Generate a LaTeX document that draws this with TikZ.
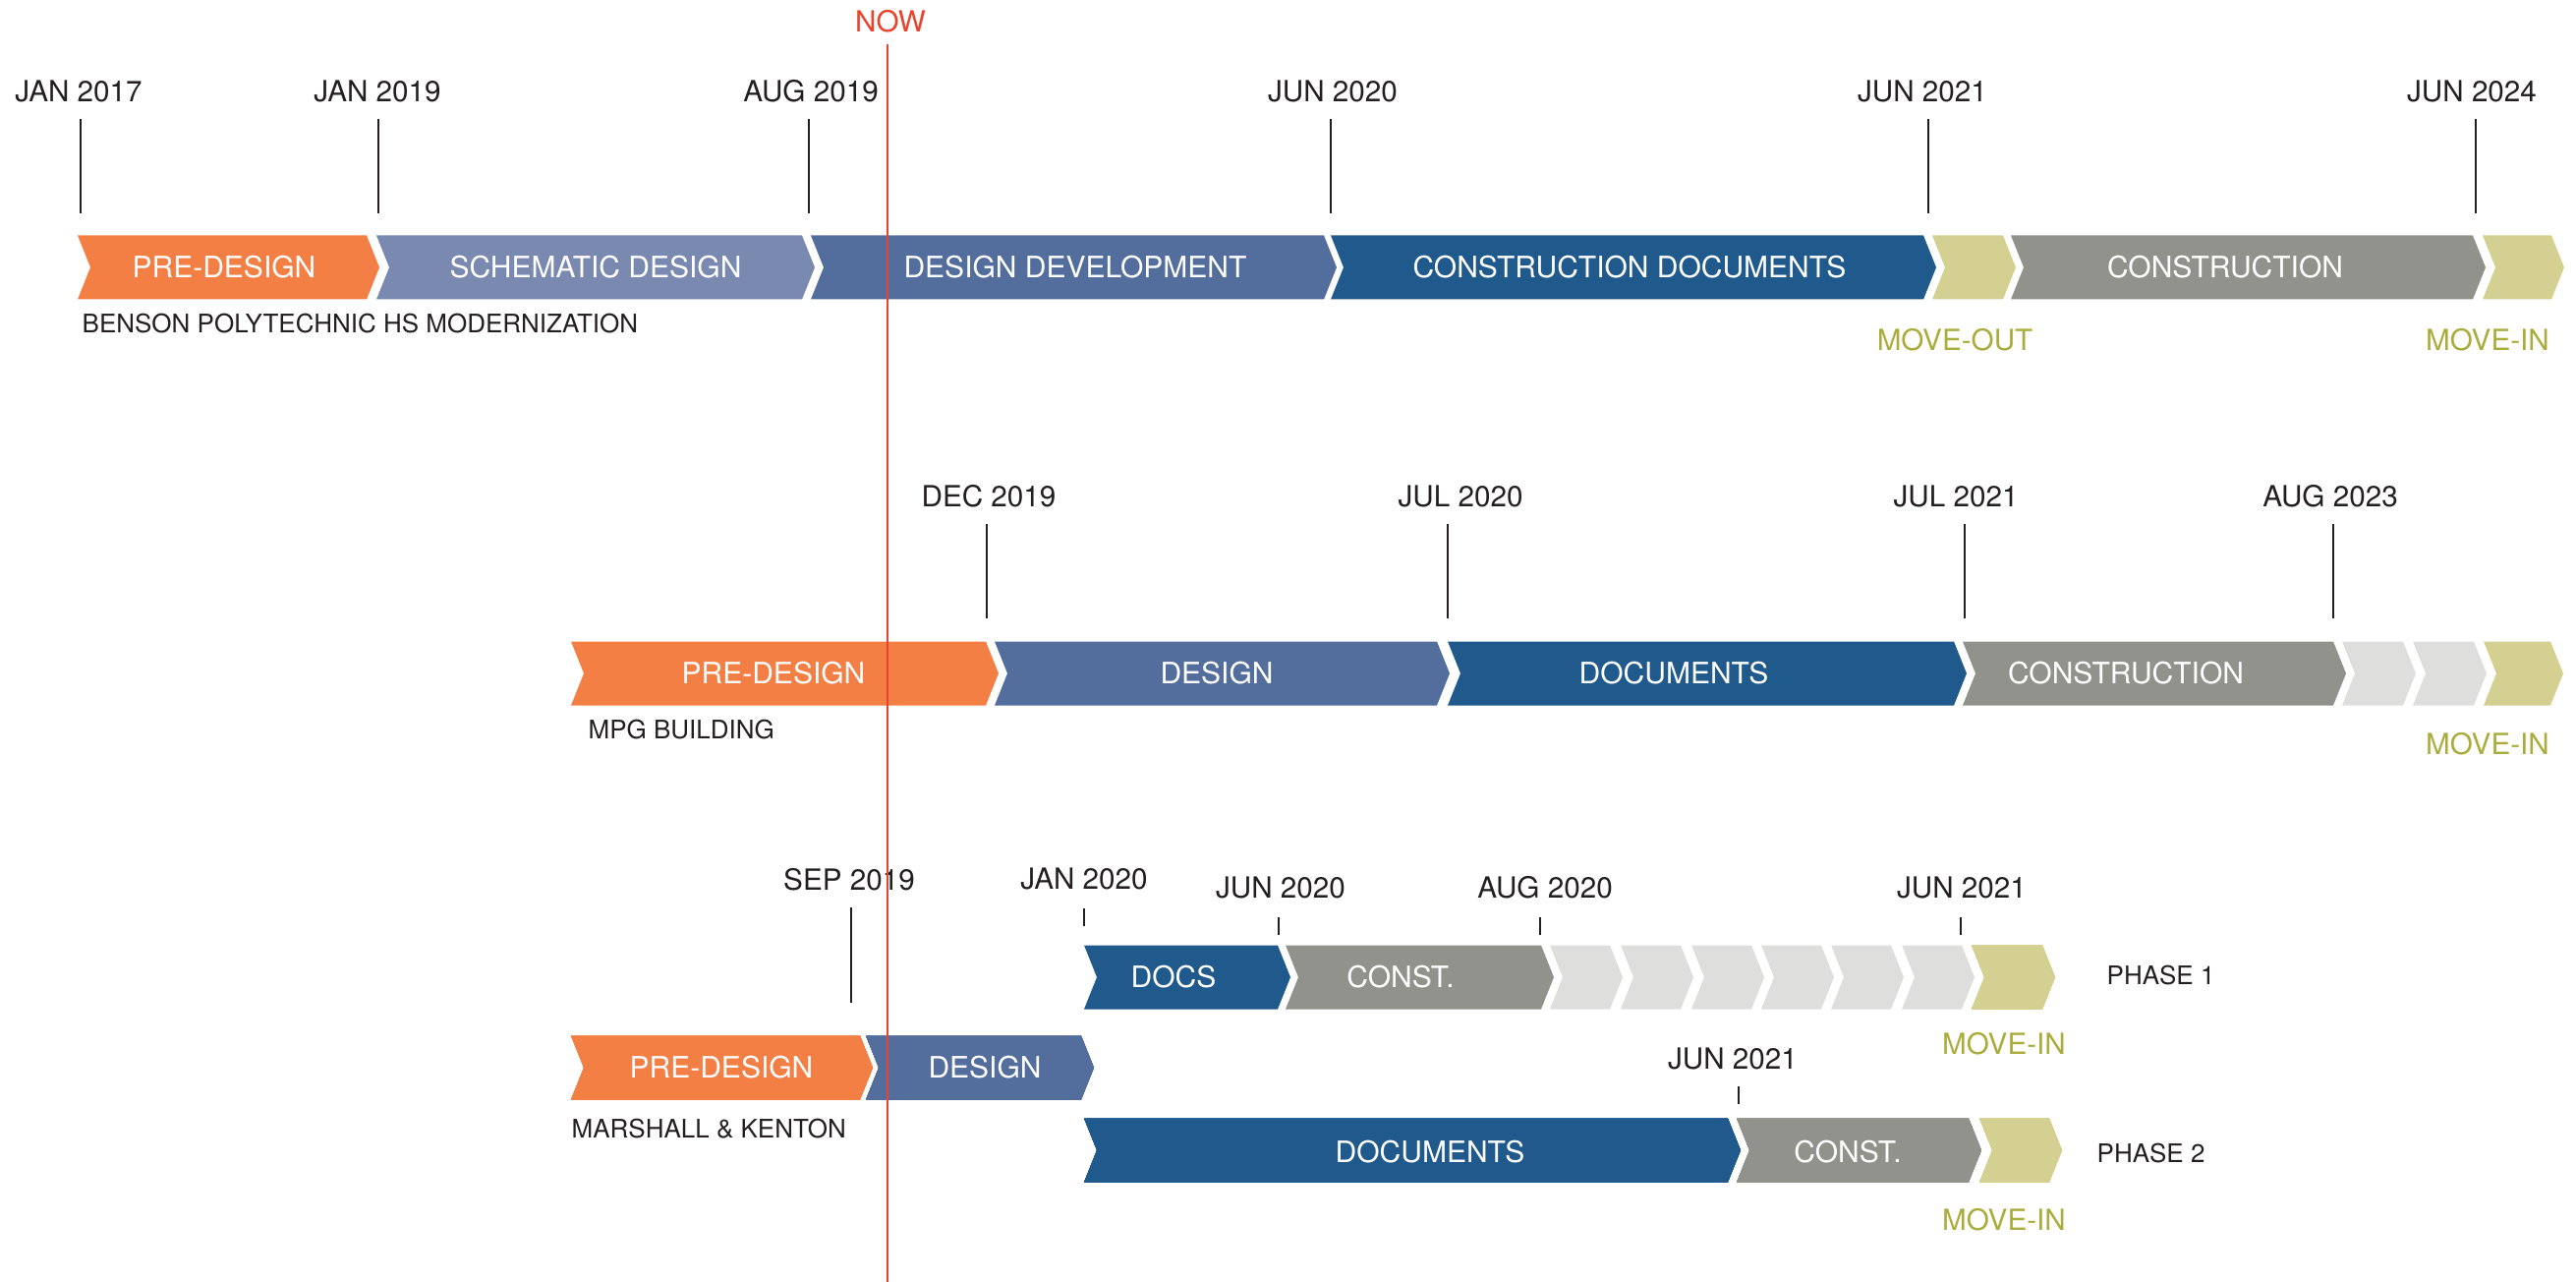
\documentclass[tikz,border=0pt]{standalone}
\usepackage{fontspec}
\setmainfont{TeX Gyre Heros}
\usepackage{tikz}

\definecolor{predes}{RGB}{244,127,69}
\definecolor{schem}{RGB}{122,137,176}
\definecolor{desdev}{RGB}{83,110,156}
\definecolor{condoc}{RGB}{32,89,140}
\definecolor{constr}{RGB}{146,146,140}
\definecolor{later}{RGB}{222,222,221}
\definecolor{move}{RGB}{212,208,145}
\definecolor{movetxt}{RGB}{170,172,60}
\definecolor{nowred}{RGB}{232,67,45}
\definecolor{ink}{RGB}{35,31,32}

% chevron: colour, left x, right x, middle y
\newcommand{\chev}[4]{\fill[#1] (#2,#4-32.5) -- (#3,#4-32.5) -- (#3+13,#4) -- (#3,#4+32.5) -- (#2,#4+32.5) -- (#2+13,#4) -- cycle;}

\begin{document}
\begin{tikzpicture}[x=0.3pt,y=0.3pt,yscale=-1,xscale=1,
    datelbl/.style={inner sep=0.75pt,text=ink,font=\fontsize{8.9}{10}\selectfont},
    barlbl/.style={inner sep=0.75pt,text=white,font=\fontsize{9}{10}\selectfont},
    projlbl/.style={anchor=west,inner sep=0pt,text=ink,font=\fontsize{7.8}{10}\selectfont},
    movelbl/.style={inner sep=0.75pt,text=movetxt,font=\fontsize{8.9}{10}\selectfont},
    phaselbl/.style={anchor=west,inner sep=0pt,text=ink,font=\fontsize{7.8}{10}\selectfont},
    datetick/.style={draw=ink,line width=0.6pt}]
        \useasboundingbox (0,0) rectangle (2621,1304);

        %Benson row
        \chev{predes}{79}{373}{272}
        \chev{schem}{383}{816}{272}
        \chev{desdev}{825}{1347}{272}
        \chev{condoc}{1354}{1957}{272}
        \chev{move}{1966}{2038}{272}
        \chev{constr}{2046}{2516}{272}
        \chev{move}{2526}{2596}{272}
        %Straight Lines
        \foreach \tx in {82,385,823,1354,1962,2519}
            \draw [datetick] (\tx,121) -- (\tx,217) ;
        % Text Node
        \draw (80,93) node (b17) [datelbl] {JAN 2017};
        \draw (384,93) node (b19) [datelbl] {JAN 2019};
        \draw (825,93) node (b19a) [datelbl] {AUG 2019};
        \draw (1356,93) node (b20) [datelbl] {JUN 2020};
        \draw (1956,93) node (b21) [datelbl] {JUN 2021};
        \draw (2515,93) node (b24) [datelbl] {JUN 2024};
        \draw (228,272) node (bpre) [barlbl] {PRE-DESIGN};
        \draw (606,272) node (bsd) [barlbl] {SCHEMATIC DESIGN};
        \draw (1094,272) node (bdd) [barlbl] {DESIGN DEVELOPMENT};
        \draw (1658,272) node (bcd) [barlbl] {CONSTRUCTION DOCUMENTS};
        \draw (2264,272) node (bcon) [barlbl] {CONSTRUCTION};
        \draw (83,329) node (bname) [projlbl] {BENSON POLYTECHNIC HS MODERNIZATION};
        \draw (1989,346) node (bout) [movelbl] {MOVE-OUT};
        \draw (2531,346) node (bin) [movelbl] {MOVE-IN};

        %MPG row
        \chev{predes}{581}{1003}{685}
        \chev{desdev}{1012}{1462}{685}
        \chev{condoc}{1473}{1988}{685}
        \chev{constr}{1997}{2374}{685}
        \chev{later}{2383}{2445}{685}
        \chev{later}{2455}{2517}{685}
        \chev{move}{2527}{2595}{685}
        %Straight Lines
        \foreach \tx in {1004,1473,1999,2374}
            \draw [datetick] (\tx,533) -- (\tx,629) ;
        % Text Node
        \draw (1006,505) node (m19) [datelbl] {DEC 2019};
        \draw (1486,505) node (m20) [datelbl] {JUL 2020};
        \draw (1990,505) node (m21) [datelbl] {JUL 2021};
        \draw (2371,505) node (m23) [datelbl] {AUG 2023};
        \draw (787,685) node (mpre) [barlbl] {PRE-DESIGN};
        \draw (1238,685) node (mdes) [barlbl] {DESIGN};
        \draw (1703,685) node (mdoc) [barlbl] {DOCUMENTS};
        \draw (2163,685) node (mcon) [barlbl] {CONSTRUCTION};
        \draw (598,742) node (mname) [projlbl] {MPG BUILDING};
        \draw (2531,757) node (min) [movelbl] {MOVE-IN};

        %Marshall rows
        \chev{condoc}{1103}{1300}{994}
        \chev{constr}{1308}{1568}{994}
        \foreach \gx in {1577,1649,1721,1792,1863,1935}
            \chev{later}{\gx}{\gx+61}{994}
        \chev{move}{2006}{2078}{994}
        \chev{predes}{581}{875}{1086}
        \chev{desdev}{881}{1100}{1086}
        \chev{condoc}{1103}{1758}{1170}
        \chev{constr}{1767}{2003}{1170}
        \chev{move}{2014}{2085}{1170}
        %Straight Lines
        \draw [datetick] (1103,924) -- (1103,942) ;
        \foreach \tx in {1301,1567,1995}
            \draw [datetick] (\tx,933) -- (\tx,951) ;
        \draw [datetick] (866,923) -- (866,1020) ;
        \draw [datetick] (1769,1105) -- (1769,1123) ;
        % Text Node
        \draw (1103,894) node (k20) [datelbl] {JAN 2020};
        \draw (1303,903) node (k20b) [datelbl] {JUN 2020};
        \draw (1572,903) node (k20c) [datelbl] {AUG 2020};
        \draw (1996,903) node (k21) [datelbl] {JUN 2021};
        \draw (864,895) node (k19) [datelbl] {SEP 2019};
        \draw (1763,1077) node (k21b) [datelbl] {JUN 2021};
        \draw (1194,994) node (kdocs) [barlbl] {DOCS};
        \draw (1425,994) node (kcon) [barlbl] {CONST.};
        \draw (734,1086) node (kpre) [barlbl] {PRE-DESIGN};
        \draw (1002,1086) node (kdes) [barlbl] {DESIGN};
        \draw (1455,1172) node (kdoc) [barlbl] {DOCUMENTS};
        \draw (1880,1172) node (kcon2) [barlbl] {CONST.};
        \draw (581,1148) node (kname) [projlbl] {MARSHALL \& KENTON};
        \draw (2143,992) node (kph1) [phaselbl] {PHASE 1};
        \draw (2133,1173) node (kph2) [phaselbl] {PHASE 2};
        \draw (2039,1062) node (kin1) [movelbl] {MOVE-IN};
        \draw (2039,1241) node (kin2) [movelbl] {MOVE-IN};

        %Now line
        \draw [draw=nowred,line width=0.6pt] (903,45) -- (903,1304) ;
        \draw (906,22) node (now) [datelbl,text=nowred] {NOW};
\end{tikzpicture}
\end{document}
